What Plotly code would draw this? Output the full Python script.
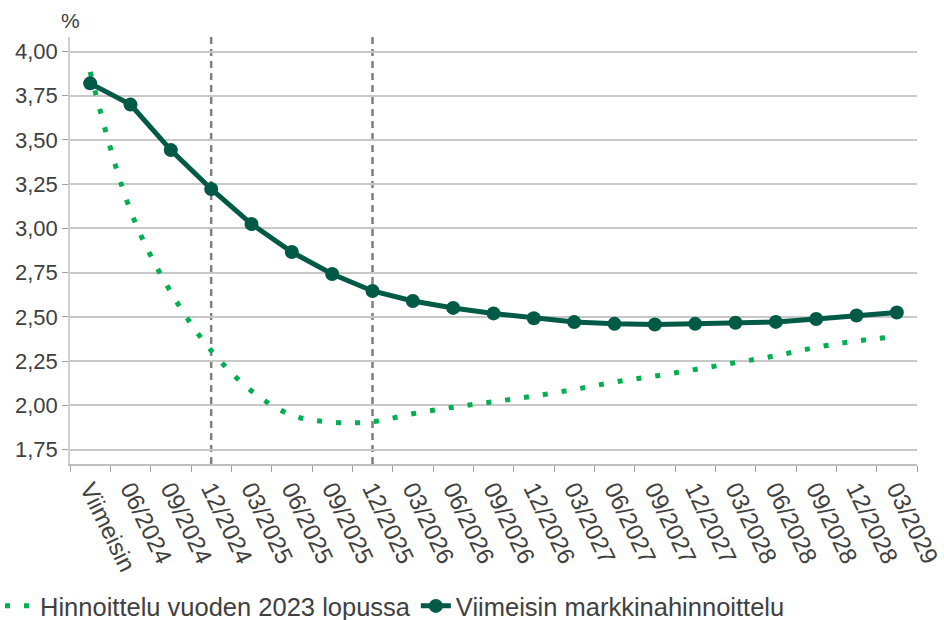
import plotly.graph_objects as go

categories = ["Viimeisin", "06/2024", "09/2024", "12/2024", "03/2025", "06/2025", "09/2025",
              "12/2025", "03/2026", "06/2026", "09/2026", "12/2026", "03/2027", "06/2027",
              "09/2027", "12/2027", "03/2028", "06/2028", "09/2028", "12/2028", "03/2029"]

pricing_end_2023 = [3.885, 3.10, 2.64, 2.31, 2.082, 1.945, 1.905, 1.908, 1.953, 1.99, 2.021,
                    2.053, 2.09, 2.132, 2.166, 2.203, 2.242, 2.281, 2.328, 2.364, 2.39]

latest_market = [3.82, 3.70, 3.443, 3.223, 3.025, 2.867, 2.743, 2.647, 2.59, 2.551, 2.52,
                 2.493, 2.471, 2.461, 2.457, 2.461, 2.467, 2.472, 2.488, 2.508, 2.525]

vlines_at = ["12/2024", "12/2025"]
y_ticks = [1.75, 2.00, 2.25, 2.50, 2.75, 3.00, 3.25, 3.50, 3.75, 4.00]

name_a = "Hinnoittelu vuoden 2023 lopussa"
name_b = "Viimeisin markkinahinnoittelu"

TEXT = "#404040"
FONT = "Liberation Sans, Arial, sans-serif"

fig = go.Figure()
fig.add_trace(go.Scatter(
    x=categories, y=pricing_end_2023, name=name_a, mode="lines",
    line=dict(color="#00b050", width=5, dash="5px,14px", shape="spline", smoothing=1),
))
fig.add_trace(go.Scatter(
    x=categories, y=latest_market, name=name_b, mode="lines+markers",
    line=dict(color="#005a46", width=5),
    marker=dict(color="#005a46", size=14),
))

for c in vlines_at:
    fig.add_shape(type="line", xref="x", yref="paper", x0=c, x1=c, y0=0, y1=1,
                  line=dict(color="#808080", width=2.5, dash="7px,5px"), layer="below")

fig.add_annotation(text="%", xref="paper", yref="paper", x=0, y=1, xshift=-11, yshift=30,
                   showarrow=False, font=dict(size=21, color=TEXT, family=FONT))

fig.update_layout(
    width=944, height=620,
    margin=dict(l=70, r=27, t=37, b=156),
    paper_bgcolor="white", plot_bgcolor="white",
    separators=", ",
    font=dict(family=FONT, color=TEXT, size=22),
    showlegend=True,
    legend=dict(orientation="h", xref="container", yref="container",
                x=-0.002, y=0.06, xanchor="left", yanchor="top",
                font=dict(size=25.5, color=TEXT, family=FONT),
                itemwidth=30, tracegroupgap=0, bgcolor="rgba(0,0,0,0)"),
    xaxis=dict(type="category", showgrid=False, showline=True, linecolor="#bfbfbf", linewidth=1.5,
               ticks="outside", tickson="boundaries", ticklen=6, tickcolor="#a0a0a0",
               tickangle=64, tickfont=dict(size=24, color=TEXT, family=FONT),
               range=[-0.5, len(categories) - 0.5], automargin=False),
    yaxis=dict(range=[1.669, 4.082], tickvals=y_ticks, tickformat=".2f",
               showgrid=True, gridcolor="#c8c8c8", gridwidth=1.5,
               showline=True, linecolor="#d0d0d0", linewidth=1.5,
               ticks="outside", ticklen=6, tickcolor="#a0a0a0",
               tickfont=dict(size=22, color=TEXT, family=FONT), zeroline=False,
               automargin=False),
)

fig.write_html("out.html", config={"displayModeBar": False},
               post_script="document.body.style.margin='0px';document.body.style.padding='0px';")
